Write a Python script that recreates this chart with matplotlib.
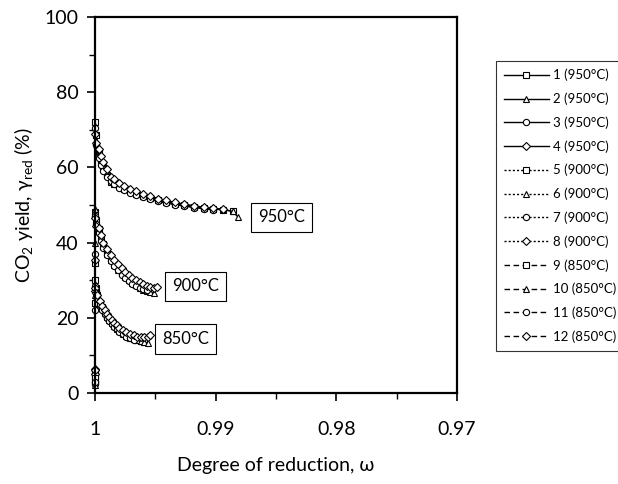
import matplotlib
matplotlib.use('Agg')
import matplotlib.pyplot as plt
import matplotlib.ticker as mticker

plt.rcParams['font.family'] = ['Lato', 'DejaVu Sans']
plt.rcParams['mathtext.fontset'] = 'custom'
plt.rcParams['mathtext.rm'] = 'Lato'

### data
x950 = [1.0, 0.99998, 0.9999, 0.9997, 0.9995, 0.9993, 0.9990, 0.9987, 0.9984, 0.9980, 0.9976,
        0.9971, 0.9966, 0.9960, 0.9954, 0.9948, 0.9941, 0.9934, 0.9926, 0.9918, 0.9910, 0.9902,
        0.9894, 0.9886, 0.98815]
x900 = [1.0, 1.0, 0.99998, 0.9999, 0.9997, 0.9995, 0.9993, 0.9990, 0.9987, 0.9984, 0.9981,
        0.9978, 0.9975, 0.9972, 0.9969, 0.9966, 0.9963, 0.9960, 0.9957, 0.9954, 0.9951, 0.9949]
x850 = [1.0, 1.0, 0.99998, 0.9999, 0.9998, 0.9996, 0.9994, 0.9992, 0.9990, 0.9988, 0.9986,
        0.9984, 0.9982, 0.9980, 0.9977, 0.9974, 0.9971, 0.9968, 0.9965, 0.9962, 0.9959, 0.9956,
        0.9954]

y1 = [5.5, 72.0, 68.5, 64.0, 61.5, 60.0, 58.0, 56.0, 55.5, 55.0, 54.2, 53.6, 53.0, 52.4, 51.8,
      51.2, 50.8, 50.3, 49.9, 49.5, 49.2, 48.9, 48.7, 48.4]
y2 = [4.0, 71.0, 67.0, 63.5, 62.0, 60.5, 58.5, 57.0, 56.0, 55.2, 54.5, 53.8, 53.2, 52.5, 52.0,
      51.4, 50.9, 50.5, 50.0, 49.6, 49.2, 49.0, 48.8, 48.3, 46.8]
y3 = [3.0, 70.5, 66.0, 62.5, 60.5, 59.0, 57.5, 56.5, 55.5, 54.6, 54.0, 53.3, 52.7, 52.0, 51.5,
      51.0, 50.5, 50.1, 49.7, 49.3, 49.0, 48.7]
y4 = [6.5, 69.0, 66.5, 65.0, 63.0, 61.5, 59.5, 57.5, 56.8, 55.8, 55.0, 54.3, 53.6, 53.0, 52.3,
      51.7, 51.2, 50.7, 50.2, 49.8, 49.4, 49.1, 48.9]

y5 = [4.5, 34.5, 48.0, 46.0, 43.5, 41.5, 39.5, 37.5, 36.0, 34.5, 33.2, 32.2, 31.2, 30.4, 29.7,
      29.0, 28.5, 28.0, 27.6, 27.2]
y6 = [3.5, 40.0, 49.0, 45.5, 43.0, 41.0, 39.0, 37.0, 35.5, 34.0, 32.8, 31.8, 30.8, 30.0, 29.3,
      28.6, 28.0, 27.5, 27.0, 26.8, 26.6]
y7 = [2.5, 37.0, 47.0, 45.0, 42.5, 40.5, 38.5, 36.8, 35.2, 33.8, 32.6, 31.5, 30.6, 29.8, 29.1,
      28.5, 28.0, 27.6, 27.3]
y8 = [5.0, 35.5, 46.5, 44.5, 44.0, 42.0, 40.0, 38.2, 36.8, 35.5, 34.2, 33.2, 32.2, 31.4, 30.6,
      30.0, 29.4, 28.9, 28.5, 28.2, 28.0, 28.3]

y9 = [4.0, 24.0, 30.0, 28.0, 26.0, 24.0, 22.8, 21.6, 20.6, 19.6, 18.8, 18.0, 17.3, 16.7, 16.0,
      15.4, 14.9, 14.5, 14.1, 13.8, 13.6]
y10 = [2.0, 26.0, 29.0, 27.5, 25.5, 23.8, 22.5, 21.3, 20.3, 19.4, 18.6, 17.8, 17.1, 16.5, 15.8,
       15.2, 14.7, 14.3, 14.0, 13.7, 13.5, 13.3]
y11 = [3.0, 22.0, 28.5, 27.0, 25.0, 23.5, 22.2, 21.0, 20.0, 19.1, 18.3, 17.6, 16.9, 16.3, 15.6,
       15.0, 14.6, 14.2]
y12 = [6.0, 27.0, 28.0, 26.5, 26.0, 24.5, 23.2, 22.0, 21.0, 20.2, 19.4, 18.7, 18.0, 17.4, 16.8,
       16.2, 15.7, 15.3, 15.0, 14.8, 14.8, 15.0, 15.5]

labels = ['1 (950°C)', '2 (950°C)', '3 (950°C)', '4 (950°C)',
          '5 (900°C)', '6 (900°C)', '7 (900°C)', '8 (900°C)',
          '9 (850°C)', '10 (850°C)', '11 (850°C)', '12 (850°C)']
ys = [y1, y2, y3, y4, y5, y6, y7, y8, y9, y10, y11, y12]
xs = [x950] * 4 + [x900] * 4 + [x850] * 4
markers = ['s', '^', 'o', 'D'] * 3
styles = ['-'] * 4 + [(0, (1.5, 1.5))] * 4 + [(0, (4, 2.5))] * 4

box_text = ['950°C', '900°C', '850°C']
box_x = [0.98455, 0.99167, 0.9925]
box_y = [46.7, 28.4, 14.4]


fig = plt.figure(figsize=(6.18, 4.84), dpi=100)
ax = fig.add_axes([0.1537, 0.188, 0.5858, 0.777])

for x, y, m, ls, lab in zip(xs, ys, markers, styles, labels):
    ax.plot(x[:len(y)], y, linestyle=ls, color='black', linewidth=1.0, marker=m,
            markersize=4.5 if m != 'D' else 4, markerfacecolor='white', markeredgecolor='black',
            markeredgewidth=0.8, clip_on=False, label=lab)

for t, bx, by in zip(box_text, box_x, box_y):
    ax.text(bx, by, t, ha='center', va='center', fontsize=12,
            bbox=dict(boxstyle='square,pad=0.4', facecolor='white', edgecolor='black', linewidth=0.8))

ax.set_xlim(1.0, 0.97)
ax.set_ylim(0, 100)
ax.set_xticks([1.0, 0.99, 0.98, 0.97])
ax.set_xticklabels(['1', '0.99', '0.98', '0.97'])
ax.xaxis.set_minor_locator(mticker.FixedLocator([0.995, 0.985, 0.975]))
ax.set_yticks([0, 20, 40, 60, 80, 100])
ax.yaxis.set_minor_locator(mticker.FixedLocator([10, 30, 50, 70, 90]))
ax.tick_params(which='major', direction='out', length=6, width=1.2, labelsize=14, pad=6)
ax.tick_params(axis='x', which='major', pad=14)
ax.tick_params(which='minor', direction='out', length=4, width=1.0)
for sp in ax.spines.values():
    sp.set_linewidth(1.6)

ax.set_xlabel('Degree of reduction, ω', fontsize=14, labelpad=14)
ax.set_ylabel('CO$_2$ yield, γ$_\\mathregular{red}$ (%)', fontsize=14, labelpad=6)

leg = fig.legend(loc='upper left', bbox_to_anchor=(0.8026, 0.874), fontsize=9.5, handlelength=3.4,
                 numpoints=1, frameon=True, fancybox=False, edgecolor='black', borderpad=0.6,
                 labelspacing=0.85, handletextpad=0.3, borderaxespad=0)
leg.get_frame().set_linewidth(0.8)

plt.savefig('out.png', dpi=100)
